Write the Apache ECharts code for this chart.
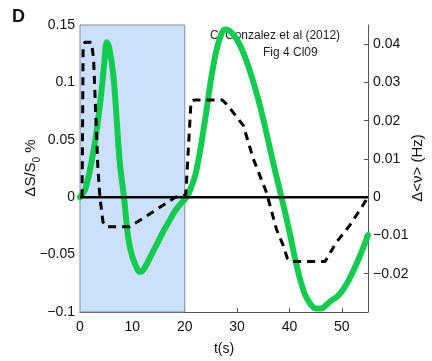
<!DOCTYPE html>
<html><head><meta charset="utf-8">
<script src="https://cdn.jsdelivr.net/npm/echarts@6/dist/echarts.min.js"></script>
<style>html,body{margin:0;padding:0;background:#fff}#c{width:432px;height:361px}</style>
</head><body><div id="c"></div>
<script>
// Green curve: ΔS/S0 % (left axis)
const greenT = [0,1,2,3,4,4.6,5.1,5.6,6.4,7,7.6,8.4,9.2,10,11,11.5,12,13,14,15,16,17,18,19,20,20.5,21,22,23,24,25,26,27,27.7,28.5,29,30,31,32,33,34,35,36,37,38,39,40,41,42,43,44,45,46,47,48,49,50,51,52,53,54,55];
const greenV = [0,0.007,0.026,0.052,0.088,0.115,0.135,0.13,0.105,0.068,0.03,0,-0.035,-0.052,-0.063,-0.065,-0.064,-0.056,-0.047,-0.038,-0.029,-0.021,-0.013,-0.007,-0.002,0.001,0.006,0.019,0.042,0.071,0.102,0.127,0.142,0.146,0.145,0.143,0.137,0.128,0.116,0.102,0.086,0.068,0.048,0.028,0.009,-0.01,-0.03,-0.052,-0.071,-0.085,-0.093,-0.097,-0.097,-0.094,-0.09,-0.087,-0.082,-0.075,-0.066,-0.056,-0.045,-0.033];
// Dashed curve: Δ<ν> (Hz) (right axis)
const dashT = [0.4,0.6,1.0,2.2,2.6,3.4,3.8,4.4,5,9.5,14.3,18.2,20.2,21.2,21.8,27.2,28.2,31.2,33.1,35.6,37.5,38.8,39.6,40.3,46.8,49,51.5,53.8,55];
const dashV = [0,0.040,0.0405,0.0405,0.036,0.008,0,-0.0065,-0.0077,-0.0077,-0.0035,0,0.0006,0.025,0.0254,0.0254,0.024,0.0187,0.01,0.0013,-0.0083,-0.0126,-0.016,-0.0168,-0.0168,-0.0117,-0.0074,-0.0026,0];
// Zero reference line and shaded stimulus window
const zeroT = [0,55];
const zeroV = [0,0];
const shadeRange = [0,20];
const xTicks = [0,55,10];
const leftTicks = [-0.1,0.15,0.05];
const rightTicks = [-0.03,0.045,0.01];
const annot = ['Cf Gonzalez et al (2012)','Fig 4 Cl09'];

const FONT = 'Liberation Sans, Arial, Helvetica, sans-serif';
const fmt = v => { const r = parseFloat(v.toFixed(4)); return (r < 0 ? '\u2212' : '') + String(Math.abs(r)); };
const axisLine = {show:true, onZero:false, lineStyle:{color:'#555', width:1}};
const tick = {show:true, inside:true, length:4, lineStyle:{color:'#555'}};

const chart = echarts.init(document.getElementById('c'), null, {renderer:'canvas'});
chart.setOption({
  animation:false,
  backgroundColor:'#fff',
  grid:{left:80, right:64, top:25, bottom:48, containLabel:false},
  xAxis:{type:'value', min:xTicks[0], max:xTicks[1], interval:xTicks[2],
    axisLine:axisLine, axisTick:tick, splitLine:{show:false},
    axisLabel:{fontSize:14, color:'#111', fontFamily:FONT, margin:8, showMaxLabel:false},
    name:'t(s)', nameLocation:'middle', nameGap:30,
    nameTextStyle:{fontSize:14, color:'#111', fontFamily:FONT}},
  yAxis:[
    {type:'value', min:leftTicks[0], max:leftTicks[1], interval:leftTicks[2],
     axisLine:axisLine, axisTick:tick, splitLine:{show:false},
     axisLabel:{fontSize:14, color:'#111', fontFamily:FONT, margin:5, formatter:fmt}},
    {type:'value', position:'right', min:rightTicks[0], max:rightTicks[1], interval:rightTicks[2],
     axisLine:axisLine, axisTick:tick, splitLine:{show:false},
     axisLabel:{fontSize:14, color:'#111', fontFamily:FONT, margin:5, formatter:fmt, showMinLabel:false, showMaxLabel:false}}
  ],
  graphic:[
    {type:'text', left:12, top:8, style:{text:'D', font:'bold 18px '+FONT, fill:'#111'}},
    {type:'text', left:210, top:30, style:{text:annot[0], font:'12px '+FONT, fill:'#222'}},
    {type:'text', left:263, top:47, style:{text:annot[1], font:'12px '+FONT, fill:'#222'}},
    {type:'text', x:28, y:168, rotation:Math.PI/2,
     style:{text:'{a|ΔS/S}{s|0}{a| %}', align:'center', verticalAlign:'middle',
       rich:{a:{fontSize:15, fontFamily:FONT, fill:'#111', lineHeight:20, verticalAlign:'bottom'},
             s:{fontSize:10, fontFamily:FONT, fill:'#111', lineHeight:20, verticalAlign:'bottom', padding:[0,0,-4,0]}}}},
    {type:'text', x:418, y:168, rotation:Math.PI/2,
     style:{text:'Δ<ν> (Hz)', align:'center', verticalAlign:'middle', font:'15px '+FONT, fill:'#111'}}
  ],
  series:[
    {type:'line', yAxisIndex:0, data:greenT.map((t,i)=>[t,greenV[i]]), showSymbol:false, smooth:0.3,
     lineStyle:{color:'#13cc4f', width:6, cap:'round', join:'round'}, z:3,
     markArea:{silent:true, itemStyle:{color:'#cce0fb', borderColor:'#7f8fa3', borderWidth:1},
       data:[[{xAxis:shadeRange[0]},{xAxis:shadeRange[1]}]]}},
    {type:'line', yAxisIndex:1, data:dashT.map((t,i)=>[t,dashV[i]]), showSymbol:false,
     lineStyle:{color:'#000', width:3, type:[8,6]}, z:4},
    {type:'line', yAxisIndex:0, data:zeroT.map((t,i)=>[t,zeroV[i]]), showSymbol:false,
     lineStyle:{color:'#000', width:2.5}, z:5}
  ]
});
</script></body></html>
